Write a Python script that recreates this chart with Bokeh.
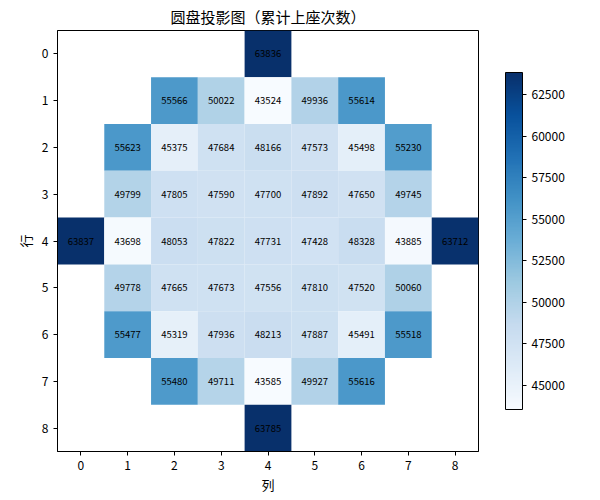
from bokeh.plotting import figure
from bokeh.models import ColumnDataSource, ColorBar, FixedTicker, LinearColorMapper, Range1d
from bokeh.palettes import Blues256
from bokeh.core.properties import value
from bokeh.embed import file_html
from bokeh.resources import INLINE

N = None
row0 = [N, N, N, N, 63836, N, N, N, N]
row1 = [N, N, 55566, 50022, 43524, 49936, 55614, N, N]
row2 = [N, 55623, 45375, 47684, 48166, 47573, 45498, 55230, N]
row3 = [N, 49799, 47805, 47590, 47700, 47892, 47650, 49745, N]
row4 = [63837, 43698, 48053, 47822, 47731, 47428, 48328, 43885, 63712]
row5 = [N, 49778, 47665, 47673, 47556, 47810, 47520, 50060, N]
row6 = [N, 55477, 45319, 47936, 48213, 47887, 45491, 55518, N]
row7 = [N, N, 55480, 49711, 43585, 49927, 55616, N, N]
row8 = [N, N, N, N, 63785, N, N, N, N]
grid = [row0, row1, row2, row3, row4, row5, row6, row7, row8]
tick_labels = [str(i) for i in range(9)]
cbar_ticks = [45000, 47500, 50000, 52500, 55000, 57500, 60000, 62500]

xs, ys, vals, txt = [], [], [], []
for r, row in enumerate(grid):
    for c, v in enumerate(row):
        if v is not None:
            xs.append(c)
            ys.append(r)
            vals.append(v)
            txt.append(str(v))

vmin, vmax = min(vals), max(vals)
mapper = LinearColorMapper(palette=list(reversed(Blues256)), low=vmin, high=vmax)
src = ColumnDataSource(dict(x=xs, y=ys, v=vals, t=txt))

FONT = "Noto Sans CJK SC"
p = figure(frame_width=421, frame_height=421, output_backend="svg", toolbar_location=None,
           x_range=Range1d(-0.5, 8.5), y_range=Range1d(8.5, -0.5),
           title="圆盘投影图（累计上座次数）",
           min_border_left=57, min_border_bottom=46, min_border_top=11, min_border_right=10)
p.rect(x="x", y="y", width=1, height=1, source=src,
       fill_color={"field": "v", "transform": mapper}, line_color=None)
p.text(x="x", y="y", text="t", source=src, text_align="center", text_baseline="middle",
       text_font=value(FONT), text_font_size="9.5px", text_color="black")

p.title.align = "center"
p.title.text_font = FONT
p.title.text_font_size = "15px"
p.title.text_font_style = "normal"
p.title.text_color = "black"
p.title.standoff = 7
p.grid.visible = False
p.outline_line_color = "black"
p.outline_line_width = 1
for ax in (p.xaxis[0], p.yaxis[0]):
    ax.ticker = FixedTicker(ticks=list(range(9)))
    ax.major_label_overrides = {i: tick_labels[i] for i in range(9)}
    ax.minor_tick_line_color = None
    ax.major_tick_in = 0
    ax.major_tick_out = 4
    ax.major_tick_line_color = "black"
    ax.major_label_text_font = FONT
    ax.major_label_text_font_size = "12px"
    ax.major_label_text_color = "black"
    ax.axis_label_text_font = FONT
    ax.axis_label_text_font_size = "13px"
    ax.axis_label_text_font_style = "normal"
    ax.axis_label_text_color = "black"
    ax.axis_line_color = "black"
p.xaxis.axis_label = "列"
p.yaxis.axis_label = "行"
p.xaxis.axis_label_standoff = 2
p.yaxis.axis_label_standoff = 4

cb = ColorBar(color_mapper=mapper, width=17, height=337, location=(17, 32),
              ticker=FixedTicker(ticks=cbar_ticks), padding=10,
              major_tick_in=0, major_tick_out=4, major_tick_line_color="black",
              bar_line_color="black", border_line_color=None,
              background_fill_alpha=0,
              major_label_text_font=FONT, major_label_text_font_size="12px",
              major_label_text_color="black")
p.add_layout(cb, "right")

open("out.html", "w").write(file_html(p, INLINE))
